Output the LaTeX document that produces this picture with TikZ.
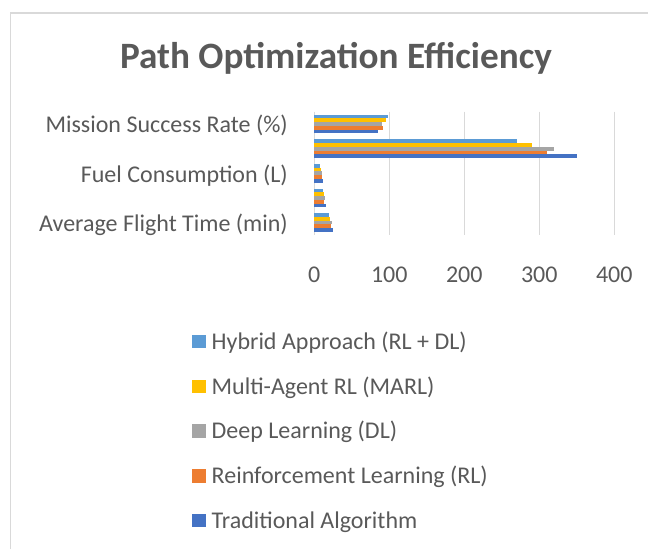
\documentclass[tikz,border=0pt]{standalone}
\usepackage{fontspec}
\setmainfont{Carlito}
\definecolor{txt}{HTML}{595959}
\definecolor{gridc}{HTML}{D9D9D9}
\definecolor{hyb}{HTML}{5B9BD5}
\definecolor{marl}{HTML}{FFC000}
\definecolor{dl}{HTML}{A5A5A5}
\definecolor{rl}{HTML}{ED7D31}
\definecolor{trad}{HTML}{4472C4}
\tikzset{
  frame/.style={draw=gridc, line width=1.5pt},
  gridline/.style={draw=gridc, line width=1.5pt},
  lbl/.style={text=txt, font=\fontsize{24}{29}\selectfont, inner sep=0pt},
  ttl/.style={text=txt, font=\bfseries\fontsize{37.2}{44}\selectfont, inner sep=0pt},
  swatch/.style={minimum width=13.5pt, minimum height=13.5pt, inner sep=0pt, draw=none},
}
% value -> x position (0 at 314.3, 0.75 per unit)
\newcommand{\xv}[1]{314.3+0.75*#1}
\begin{document}
\begin{tikzpicture}[x=1pt,y=-1pt]
\useasboundingbox (0,0) rectangle (648,549);
% chart frame (cut by the page on the right and bottom)
\draw[frame] (10.5,549) -- (10.5,13) -- (648,13);
% title
\node[ttl, anchor=base] (title) at (336,68) {Path Optimization Efficiency};
% vertical gridlines and category axis
\foreach \v in {100,200,300,400}
  \draw[gridline] ({\xv{\v}},111.7) -- ({\xv{\v}},235);
\draw[gridline] (314.3,111.7) -- (314.3,235);
% value-axis tick labels
\foreach \v in {0,100,200,300,400}
  \node[lbl, anchor=base] (tick\v) at ({\xv{\v}},282) {\v};
% category labels (every second category)
\node[lbl, anchor=base east] (catMS) at (288,132.6) {Mission Success Rate (\%)};
\node[lbl, anchor=base east] (catFC) at (288,182.6) {Fuel Consumption (L)};
\node[lbl, anchor=base east] (catAF) at (288,231.6) {Average Flight Time (min)};
% bars: each row lists Hybrid, MARL, DL, RL, Traditional (top to bottom)
\foreach \c/\ha/\ma/\da/\ra/\ta in {0/98/95/90/92/85, 1/270/290/320/310/350, 2/8/9/10/10/12, 3/12/13/14/13/15, 4/20/21/23/22/25}{
  \pgfmathsetmacro{\gt}{124+24.66*\c-9.25}
  \foreach \k/\val/\col in {0/\ha/hyb, 1/\ma/marl, 2/\da/dl, 3/\ra/rl, 4/\ta/trad}{
    \fill[\col] (314.3,{\gt+3.7*\k}) rectangle ({\xv{\val}},{\gt+3.7*(\k+1)});
  }
}
% legend
\foreach \i/\col/\name in {0/hyb/Hybrid Approach (RL + DL), 1/marl/Multi-Agent RL (MARL), 2/dl/Deep Learning (DL), 3/rl/Reinforcement Learning (RL), 4/trad/Traditional Algorithm}{
  \node[swatch, fill=\col] (key\i) at (198.75,{341.7+44.75*\i}) {};
  \node[lbl, anchor=base west] (leg\i) at (211.5,{349.3+44.75*\i}) {\name};
}
\end{tikzpicture}
\end{document}
